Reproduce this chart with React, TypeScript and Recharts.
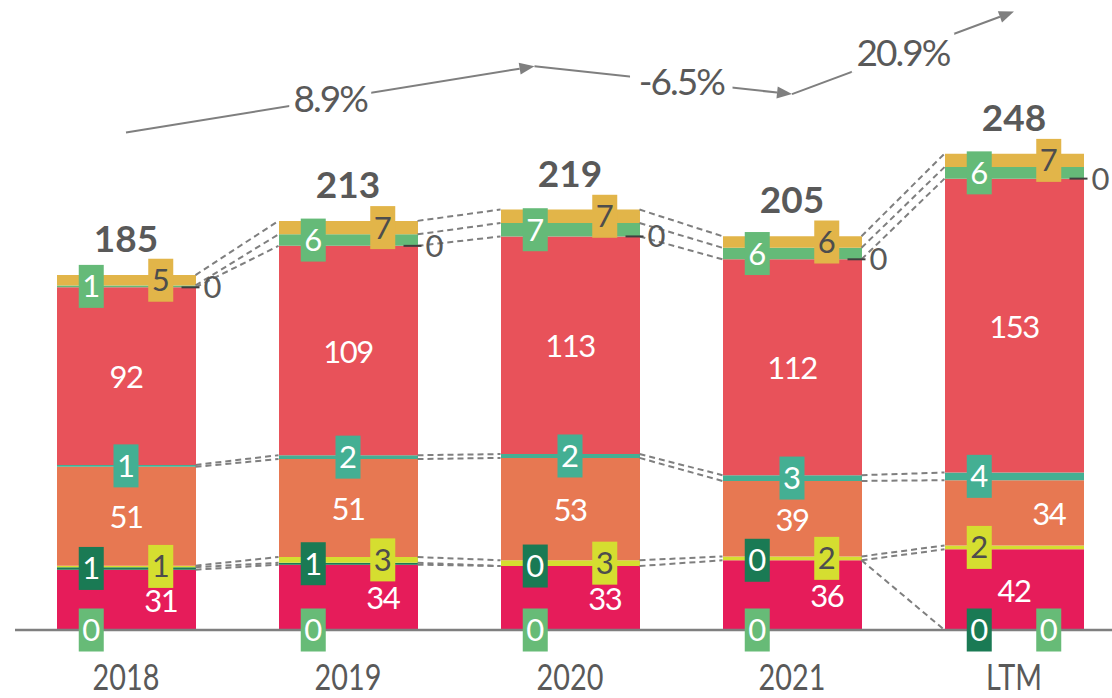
import React from 'react';
import { BarChart, Bar, XAxis, YAxis, ReferenceLine, ReferenceDot } from 'recharts';

// categories and stacked segment values (bottom -> top)
const categories = ['2018', '2019', '2020', '2021', 'LTM'];

const baseZero = [0, 0, 0, 0, 0];
const darkGreenLow: (number | null)[] = [null, null, null, null, 0];
const crimson = [31.4, 34, 33.3, 36.3, 42];
const darkGreen: (number | null)[] = [1.3, 1, 0, 0, null];
const lime = [0.8, 3, 3, 2, 2];
const orange = [51.45, 51, 53.3, 39.3, 34];
const teal = [1, 2, 2, 3, 4];
const red = [92.45, 109, 113.3, 112.4, 153];
const topZero = [0, 0, 0, 0, 0];
const green = [1, 6, 7, 6, 6];
const gold = [5.4, 7, 7, 6, 7];
const totals = [185, 213, 219, 205, 248];

// growth arrows (x in category index, y in value units)
const growthLabels = ['8.9%', '-6.5%', '20.9%'];
const growthFrom = [{ x: 0, y: 259 }, { x: 1.84, y: 293.5 }, { x: 3, y: 279 }];
const growthTo = [{ x: 1.84, y: 293.5 }, { x: 3, y: 279 }, { x: 4, y: 322 }];
const growthLabelAt = [0.5, 0.57, 0.5];

const CHART_W = 1130;
const CHART_H = 698;
const MARGIN = { top: 0, right: 5, bottom: 0, left: 15 };
const BAR_SIZE = 139;
const X_AXIS_H = 68;
const Y_MAX = 328;
const BAND = (CHART_W - MARGIN.left - MARGIN.right) / categories.length;
const HALF = BAR_SIZE / 2 / BAND;
const COL = BAR_SIZE / 4;

const FONT = 'Lato, "Open Sans", sans-serif';
const GREY = '#595959';
const LINE = '#7f7f7f';

type Kind = 'box' | 'plain' | 'leader';
interface Series {
  key: string;
  values: (number | null)[];
  fill: string;
  kind: Kind;
  ink: string;
  cols: string;
}

const series: Series[] = [
  { key: 'baseZero', values: baseZero, fill: '#67bb77', kind: 'box', ink: '#fff', cols: 'LLLLR' },
  { key: 'darkGreenLow', values: darkGreenLow, fill: '#1a7a54', kind: 'box', ink: '#fff', cols: 'LLLLL' },
  { key: 'crimson', values: crimson, fill: '#e61c5a', kind: 'plain', ink: '#fff', cols: 'RRRRC' },
  { key: 'darkGreen', values: darkGreen, fill: '#1a7a54', kind: 'box', ink: '#fff', cols: 'LLLLL' },
  { key: 'lime', values: lime, fill: '#d5de30', kind: 'box', ink: '#4d4d4d', cols: 'RRRRL' },
  { key: 'orange', values: orange, fill: '#e77852', kind: 'plain', ink: '#fff', cols: 'CCCCR' },
  { key: 'teal', values: teal, fill: '#44af93', kind: 'box', ink: '#fff', cols: 'CCCCL' },
  { key: 'red', values: red, fill: '#e8525a', kind: 'plain', ink: '#fff', cols: 'CCCCC' },
  { key: 'topZero', values: topZero, fill: '#1f5e3c', kind: 'leader', ink: GREY, cols: 'CCCCC' },
  { key: 'green', values: green, fill: '#65ba78', kind: 'box', ink: '#fff', cols: 'LLLLL' },
  { key: 'gold', values: gold, fill: '#e2b549', kind: 'box', ink: '#4d4d4d', cols: 'RRRRR' },
];

const data = categories.map((name, i) => {
  const row: Record<string, any> = { name, idx: i };
  series.forEach((s) => (row[s.key] = s.values[i]));
  return row;
});

const bounds = (key: string, i: number): [number, number] => {
  let low = 0;
  for (const s of series) {
    const v = s.values[i] ?? 0;
    if (s.key === key) return [low, low + v];
    low += v;
  }
  return [low, low];
};

// dashed links between neighbouring bars
const connectorGroups = [['baseZero'], ['darkGreen', 'darkGreenLow'], ['lime'], ['teal'], ['green'], ['gold']];
const groupBounds = (keys: string[], i: number) => {
  for (const k of keys) {
    const s = series.find((x) => x.key === k)!;
    if (s.values[i] != null) return bounds(k, i);
  }
  return bounds(keys[0], i);
};
const connectors: { x1: number; y1: number; x2: number; y2: number }[] = [];
const seen = new Set<string>();
for (let i = 0; i < categories.length - 1; i++) {
  for (const g of connectorGroups) {
    const a = groupBounds(g, i);
    const b = groupBounds(g, i + 1);
    for (const j of [0, 1]) {
      const id = `${i}|${a[j].toFixed(2)}|${b[j].toFixed(2)}`;
      if (seen.has(id)) continue;
      seen.add(id);
      connectors.push({ x1: i + HALF, y1: a[j], x2: i + 1 - HALF, y2: b[j] });
    }
  }
}

const colOffset = (c: string) => (c === 'L' ? -COL : c === 'R' ? COL : 0);

const renderLabel = (s: Series, i: number) => (p: any) => {
  const v = s.values[i];
  if (v == null) return <g />;
  const { cx, cy } = p;
  const text = String(Math.round(v));
  if (s.kind === 'leader') {
    const right = cx + BAR_SIZE / 2;
    return (
      <g>
        <line x1={right - 14} y1={cy} x2={right + 4} y2={cy} stroke="#404040" strokeWidth={2} />
        <text x={right + 8} y={cy + 11} fontSize={31} fill={GREY} fontFamily={FONT}>{text}</text>
      </g>
    );
  }
  const x = cx + colOffset(s.cols[i]);
  if (s.kind === 'box') {
    return (
      <g>
        <rect x={x - 12.5} y={cy - 21.5} width={25} height={43} fill={s.fill} />
        <text x={x} y={cy + 11} textAnchor="middle" fontSize={31} fill={s.ink} fontFamily={FONT}>{text}</text>
      </g>
    );
  }
  return (
    <text x={x} y={cy + 12} textAnchor="middle" fontSize={31} letterSpacing={-1.5} fill={s.ink} fontFamily={FONT}>{text}</text>
  );
};

const renderTotal = (i: number) => (p: any) => (
  <text x={p.cx} y={p.cy - 23} textAnchor="middle" fontSize={37} fontWeight={700} fill={GREY} fontFamily={FONT}>
    {totals[i]}
  </text>
);

const renderArrow = (k: number) => (p: any) => {
  const { x1, y1, x2, y2 } = p;
  const dx = x2 - x1;
  const dy = y2 - y1;
  const len = Math.hypot(dx, dy) || 1;
  const ux = dx / len;
  const uy = dy / len;
  const head = 15;
  const hw = 6;
  const bx = x2 - ux * head;
  const by = y2 - uy * head;
  const t = growthLabelAt[k];
  const mx = x1 + dx * t;
  const my = y1 + dy * t;
  const label = growthLabels[k];
  const w = label.length * 20.5;
  return (
    <g>
      <line x1={x1} y1={y1} x2={bx} y2={by} stroke={LINE} strokeWidth={2} />
      <polygon points={`${x2},${y2} ${bx - uy * hw},${by + ux * hw} ${bx + uy * hw},${by - ux * hw}`} fill={LINE} />
      <rect x={mx - w / 2} y={my - 20} width={w} height={40} fill="#fff" />
      <text x={mx} y={my + 13} textAnchor="middle" fontSize={37} letterSpacing={-2} fill={GREY} fontFamily={FONT}>
        {label}
      </text>
    </g>
  );
};

// the reference uses a narrow face for the year labels
const XTick = (p: any) => (
  <g transform={`translate(${p.x},690) scale(0.8,1)`}>
    <text x={0} y={0} textAnchor="middle" fontSize={36} fill={GREY} fontFamily={FONT}>
      {p.payload.value}
    </text>
  </g>
);

export default function App() {
  return (
    <div style={{ position: 'absolute', left: 0, top: 0, width: 1112, height: 698, overflow: 'hidden', background: '#fff' }}>
      <BarChart width={CHART_W} height={CHART_H} data={data} margin={MARGIN} barSize={BAR_SIZE}>
        <XAxis
          dataKey="name"
          height={X_AXIS_H}
          tickLine={false}
          tickSize={0}
          tickMargin={0}
          interval={0}
          axisLine={{ stroke: LINE, strokeWidth: 2.5 }}
          tick={XTick}
        />
        <XAxis xAxisId="num" type="number" dataKey="idx" domain={[-0.5, 4.5]} hide />
        <YAxis hide type="number" domain={[0, Y_MAX]} allowDataOverflow />
        {series.map((s) => (
          <Bar key={s.key} dataKey={s.key} stackId="a" fill={s.fill} isAnimationActive={false} />
        ))}
        {connectors.map((c, n) => (
          <ReferenceLine
            key={`c${n}`}
            xAxisId="num"
            segment={[{ x: c.x1, y: c.y1 }, { x: c.x2, y: c.y2 }]}
            stroke={LINE}
            strokeWidth={2}
            strokeDasharray="6 4"
          />
        ))}
        {growthLabels.map((_, k) => (
          <ReferenceLine
            key={`g${k}`}
            xAxisId="num"
            segment={[growthFrom[k], growthTo[k]]}
            shape={renderArrow(k)}
          />
        ))}
        {series.map((s) =>
          categories.map((c, i) =>
            s.values[i] == null ? null : (
              <ReferenceDot
                key={`${s.key}-${i}`}
                x={c}
                y={(bounds(s.key, i)[0] + bounds(s.key, i)[1]) / 2}
                r={0}
                shape={renderLabel(s, i)}
              />
            )
          )
        )}
        {categories.map((c, i) => (
          <ReferenceDot key={`t${i}`} x={c} y={bounds('gold', i)[1]} r={0} shape={renderTotal(i)} />
        ))}
      </BarChart>
    </div>
  );
}
